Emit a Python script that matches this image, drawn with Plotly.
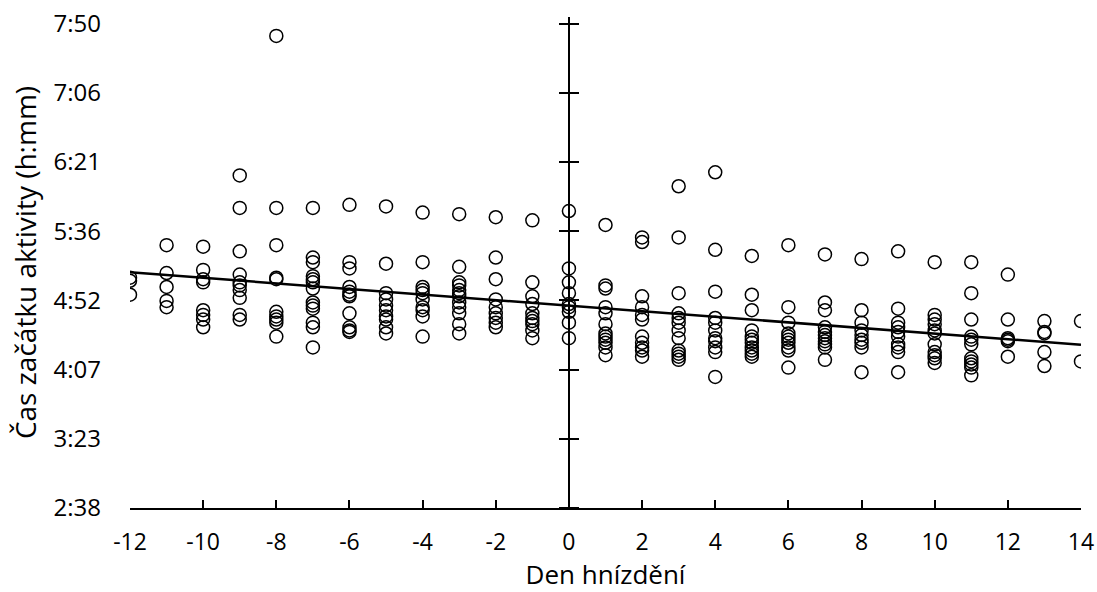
import numpy as np
import plotly.graph_objects as go

# Day of nesting -> list of activity start times (minutes after midnight)
days = list(range(-12, 15))
times = {
    -12: [307, 305, 296],
    -11: [328, 310, 301, 292, 288],
    -10: [327, 312, 306, 304, 286, 283, 280, 275],
    -9: [373, 352, 324, 309, 304, 302, 299, 294, 283, 280],
    -8: [463, 352, 328, 307, 306, 285, 282, 280, 278, 269],
    -7: [352, 320, 317, 308, 306, 304, 300, 291, 289, 287, 278, 275, 262],
    -6: [354, 317, 313, 301, 298, 296, 295, 284, 275, 273, 272],
    -5: [353, 316, 297, 293, 289, 286, 282, 280, 275, 271],
    -4: [349, 317, 301, 299, 297, 293, 288, 286, 282, 269],
    -3: [348, 314, 304, 302, 299, 297, 295, 291, 288, 284, 277, 271],
    -2: [346, 320, 306, 293, 288, 284, 281, 278, 275],
    -1: [344, 304, 295, 290, 284, 281, 279, 277, 273, 268],
    0: [350, 313, 304, 297, 290, 288, 285, 278, 268],
    1: [341, 302, 300, 288, 284, 277, 271, 269, 267, 265, 262, 257],
    2: [333, 330, 295, 288, 283, 280, 269, 265, 262, 260, 256],
    3: [366, 333, 297, 284, 281, 278, 273, 268, 260, 258, 256, 254],
    4: [375, 325, 298, 281, 278, 273, 268, 266, 262, 259, 243],
    5: [321, 296, 286, 273, 269, 267, 265, 262, 260, 258, 256],
    6: [328, 288, 278, 271, 269, 267, 265, 262, 260, 249],
    7: [322, 291, 286, 275, 272, 270, 268, 266, 264, 262, 254],
    8: [319, 286, 278, 273, 270, 267, 265, 262, 246],
    9: [324, 287, 278, 275, 272, 269, 264, 262, 259, 246],
    10: [317, 283, 280, 277, 273, 271, 264, 259, 257, 255, 252],
    11: [317, 297, 280, 269, 267, 264, 255, 253, 251, 249, 244],
    12: [309, 280, 268, 267, 266, 256],
    13: [279, 272, 271, 259, 250],
    14: [279, 253],
}

x_ticks = list(range(-12, 15, 2))
# y axis in minutes (Excel day fractions 0.11 .. 0.33, step 0.031)
y_min, y_max = 0.11 * 1440, 0.33 * 1440
y_tickvals = [(0.11 + 0.031 * k) * 1440 for k in range(8)]
y_ticktext = ["2:38", "3:23", "4:07", "4:52", "5:36", "6:21", "7:06", "7:50"]

xs, ys = [], []
for d in days:
    for t in times[d]:
        xs.append(d)
        ys.append(t)
xs = np.array(xs, dtype=float)
ys = np.array(ys, dtype=float)

slope, intercept = np.polyfit(xs, ys, 1)
trend_x = np.array([min(days), max(days)], dtype=float)
trend_y = slope * trend_x + intercept

FONT = "Open Sans"

fig = go.Figure()
fig.add_trace(go.Scatter(
    x=xs, y=ys, mode="markers",
    marker=dict(symbol="circle-open", size=13, color="black", line=dict(width=1.5, color="black")),
    showlegend=False, hoverinfo="x+y",
))
fig.add_trace(go.Scatter(
    x=trend_x, y=trend_y, mode="lines",
    line=dict(color="black", width=2.5), showlegend=False,
))
# invisible helpers for the crossing axis at x = 0
fig.add_trace(go.Scatter(x=[0], y=[y_min], mode="markers", marker=dict(opacity=0),
                         yaxis="y2", showlegend=False, hoverinfo="skip"))
fig.add_trace(go.Scatter(x=[0], y=[y_min], mode="markers", marker=dict(opacity=0),
                         yaxis="y3", showlegend=False, hoverinfo="skip"))

pos0 = (0 - min(days)) / (max(days) - min(days))

fig.update_layout(
    width=1097, height=592,
    margin=dict(l=130, r=16, t=17, b=84, autoexpand=False),
    paper_bgcolor="white", plot_bgcolor="white",
    font=dict(family=FONT, color="black", size=23),
    xaxis=dict(
        range=[min(days), max(days)], tickvals=x_ticks, ticktext=[str(v) for v in x_ticks],
        showgrid=False, zeroline=True, zerolinecolor="black", zerolinewidth=1.5,
        showline=True, linecolor="black", linewidth=1.5,
        ticks="inside", ticklen=8, tickwidth=1.5, tickcolor="black",
        ticklabelstandoff=13, automargin=False,
        tickfont=dict(size=23),
        title=dict(text="Den hnízdění", font=dict(size=26), standoff=3),
    ),
    yaxis=dict(
        range=[y_min, y_max], tickvals=y_tickvals, ticktext=y_ticktext,
        showgrid=False, zeroline=False, showline=False, automargin=False,
        ticks="", ticklabelstandoff=28,
        tickfont=dict(size=24),
        title=dict(text="Čas začátku aktivity (h:mm)", font=dict(size=28), standoff=8),
    ),
    yaxis2=dict(
        range=[y_min, y_max], tickvals=y_tickvals, overlaying="y", anchor="free",
        position=pos0, side="left", showticklabels=False, showgrid=False, zeroline=False,
        showline=True, linecolor="black", linewidth=1.5, automargin=False,
        ticks="outside", ticklen=9, tickwidth=1.5, tickcolor="black",
    ),
    yaxis3=dict(
        range=[y_min, y_max], tickvals=y_tickvals, overlaying="y", anchor="free",
        position=pos0, side="right", showticklabels=False, showgrid=False, zeroline=False,
        showline=False, automargin=False,
        ticks="outside", ticklen=9, tickwidth=1.5, tickcolor="black",
    ),
)

fig.write_html("out.html")
